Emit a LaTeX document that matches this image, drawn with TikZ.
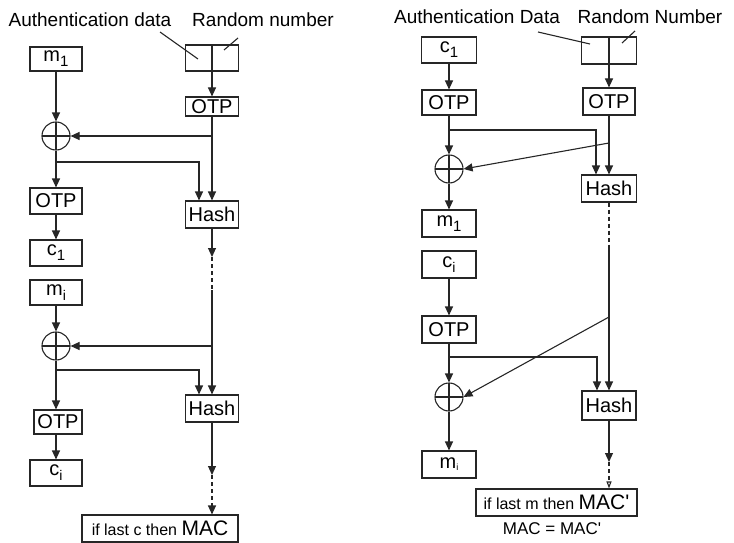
\documentclass[tikz,border=0pt]{standalone}
\usepackage{fontspec}
\setmainfont{Liberation Sans}
\usetikzlibrary{arrows.meta}
\newcommand\bxf{\fontsize{20}{20}\selectfont}
\newcommand\hdf{\fontsize{19}{19}\selectfont}
\newcommand\smf{\fontsize{16}{16}\selectfont}
\newcommand\bgf{\fontsize{21}{21}\selectfont}
% lowered subscript: optional size, lowering, text
\newcommand\sbs[3][15]{\raisebox{-#2}{\fontsize{#1}{#1}\selectfont #3}}
\begin{document}
\begin{tikzpicture}[x=1pt,y=-1pt,
  line width=1.1pt, draw=black!85,
  bx/.style={draw, inner sep=0pt, font=\bxf},
  xor/.style={circle, draw, minimum size=28pt, inner sep=0pt,
    path picture={\draw (path picture bounding box.north) -- (path picture bounding box.south)
                        (path picture bounding box.west) -- (path picture bounding box.east);}},
  arr/.style={-{Triangle[length=9pt,width=8pt]}},
  opa/.style={-{Triangle[open,length=7pt,width=5pt]}},
  dsh/.style={dash pattern=on 4pt off 3pt},
  hdr/.style={font=\hdf, inner sep=0pt, anchor=base}
]
\useasboundingbox (0,0) rectangle (734,543);

% ---------------- encryption side ----------------
\node[hdr] (authL) at (90,27) {Authentication data};
\node[hdr] (randL) at (263,27) {Random number};
\node[bx, minimum width=53pt, minimum height=26pt] (keyL) at (212,58) {};
\coordinate (la1) at (160,32); \coordinate (la2) at (198,59);
\coordinate (lr1) at (238,38); \coordinate (lr2) at (224,50);
\draw (la1) -- (la2);
\draw (lr1) -- (lr2);

\node[bx, minimum width=52pt, minimum height=24pt] (m1L) at (56,59) {m\sbs{5pt}{1}};
\node[bx, minimum width=53pt, minimum height=19pt] (otpA) at (212,106.5) {OTP};
\node[xor] (x1L) at (56,136) {};
\node[bx, minimum width=52pt, minimum height=26pt] (otpB) at (56,201) {OTP};
\node[bx, minimum width=52pt, minimum height=26pt] (c1L) at (56,253) {c\sbs{5pt}{1}};
\node[bx, minimum width=53pt, minimum height=27pt] (hashA) at (212,214.5) {Hash};

\node[bx, minimum width=52pt, minimum height=25pt] (miL) at (56,292.5) {m\sbs[14]{5pt}{i}};
\node[xor] (x2L) at (56,346) {};
\node[bx, minimum width=48pt, minimum height=24pt] (otpC) at (58,422) {OTP};
\node[bx, minimum width=52pt, minimum height=26pt] (ciL) at (56,473) {c\sbs[14]{5pt}{i}};
\node[bx, minimum width=53pt, minimum height=27pt] (hashB) at (212,408.5) {Hash};
\node[bx, minimum width=156pt, minimum height=27pt] (macL) at (160,528.5)
  {{\smf if last c then }{\bgf MAC}};

\draw[arr] (keyL.north) -- (otpA.north);
\draw[arr] (m1L.south) -- (x1L.north);
\draw[arr] (otpA.south) -- (hashA.north);
\draw[arr] (otpA.south |- x1L.east) -- (x1L.east);
\draw[arr] (x1L.south) -- (otpB.north);
\coordinate (b1) at (56,162);
\draw[arr] (b1) -| ([xshift=-13pt]hashA.north);
\draw[arr] (otpB.south) -- (c1L.north);
\coordinate (d1a) at (212,257);
\coordinate (d1b) at (212,290);
\draw[arr] (hashA.south) -- (d1a);
\draw[dsh] (d1a) -- (d1b);
\draw[arr] (d1b) -- (hashB.north);
\draw[arr] (d1b |- x2L.east) -- (x2L.east);
\draw[arr] (miL.south) -- (x2L.north);
\draw[arr] (x2L.south) -- (x2L.south |- otpC.north);
\coordinate (b2) at (56,370);
\draw[arr] (b2) -| ([xshift=-13pt]hashB.north);
\draw[arr] (ciL.north |- otpC.south) -- (ciL.north);
\coordinate (d2a) at (212,475);
\draw[arr] (hashB.south) -- (d2a);
\draw[dsh,arr] (d2a) -- (d2a |- macL.north);

% ---------------- decryption side ----------------
\node[hdr] (authR) at (477,24) {Authentication Data};
\node[hdr] (randR) at (650,24) {Random Number};
\node[bx, minimum width=55pt, minimum height=27pt] (keyR) at (609,50.5) {};
\coordinate (ra1) at (538,32); \coordinate (ra2) at (590,44);
\coordinate (rr1) at (635,31); \coordinate (rr2) at (622,43);
\draw (ra1) -- (ra2);
\draw (rr1) -- (rr2);

\node[bx, minimum width=55pt, minimum height=26pt] (c1R) at (449,50) {c\sbs{5pt}{1}};
\node[bx, minimum width=54pt, minimum height=25pt] (otpD) at (449,102.5) {OTP};
\node[bx, minimum width=52pt, minimum height=27pt] (otpE) at (609,101.5) {OTP};
\node[xor] (x1R) at (449,169) {};
\node[bx, minimum width=55pt, minimum height=27pt] (hashC) at (609,188.5) {Hash};
\node[bx, minimum width=54pt, minimum height=27pt] (m1R) at (449,223.5) {m\sbs{5pt}{1}};
\node[bx, minimum width=54pt, minimum height=27pt] (ciR) at (449,264.5) {c\sbs[14]{5pt}{i}};
\node[bx, minimum width=54pt, minimum height=27pt] (otpF) at (449,329.5) {OTP};
\node[xor] (x2R) at (449,397) {};
\node[bx, minimum width=54pt, minimum height=29pt] (hashD) at (609,405.5) {Hash};
\node[bx, minimum width=54pt, minimum height=27pt] (miR) at (449,464.5) {m\sbs[9]{2pt}{i}};
\node[bx, minimum width=161pt, minimum height=27pt] (macR) at (556.5,502.5)
  {{\smf if last m then }{\bgf MAC\textquotesingle}};
\node[font=\fontsize{17}{17}\selectfont, inner sep=0pt] (eqR) at (552,529) {MAC = MAC\textquotesingle};

\draw[arr] (c1R.south) -- (otpD.north);
\draw[arr] (keyR.north) -- (otpE.north);
\draw[arr] (otpD.south) -- (x1R.north);
\coordinate (b3) at (449,130);
\draw[arr] (b3) -| ([xshift=-13pt]hashC.north);
\draw[arr] (otpE.south) -- (hashC.north);
\coordinate (t1) at (609,143);
\draw[arr] (t1) -- (x1R.east);
\draw[arr] (x1R.south) -- (m1R.north);
\coordinate (d3a) at (609,245);
\draw[dsh] (hashC.south) -- (d3a);
\draw[arr] (d3a) -- (hashD.north);
\coordinate (t2) at (609,317);
\draw[arr] (t2) -- (x2R.east);
\draw[arr] (ciR.south) -- (otpF.north);
\draw[arr] (otpF.south) -- (x2R.north);
\coordinate (b4) at (449,357);
\draw[arr] (b4) -| ([xshift=-12pt]hashD.north);
\draw[arr] (x2R.south) -- (miR.north);
\coordinate (d4a) at (609,462);
\draw[arr] (hashD.south) -- (d4a);
\draw[dsh,opa] (d4a) -- (d4a |- macR.north);
\end{tikzpicture}
\end{document}
